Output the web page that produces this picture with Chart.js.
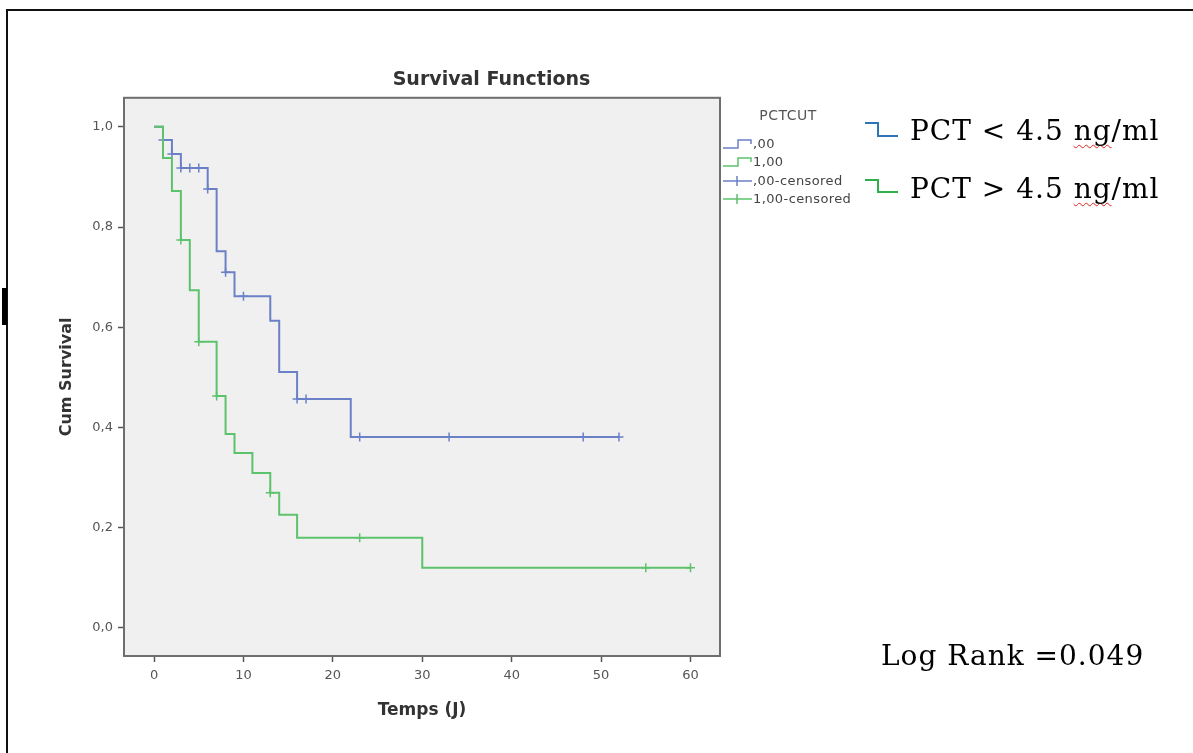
<!DOCTYPE html>
<html>
<head>
<meta charset="utf-8">
<script src="https://cdn.jsdelivr.net/npm/chart.js@4/dist/chart.umd.min.js"></script>
<style>
html,body{margin:0;padding:0;background:#fff;}
#wrap{position:relative;width:1193px;height:753px;overflow:hidden;background:#fff;}
#c{position:absolute;left:0;top:0;}
.fr{position:absolute;background:#111;}
.ann{position:absolute;font-family:"DejaVu Serif",serif;font-size:28px;line-height:32px;letter-spacing:1px;color:#000;white-space:nowrap;}
.sp{text-decoration:underline wavy #e02020;text-decoration-thickness:1px;text-underline-offset:4px;text-decoration-skip-ink:none;}
svg.icon{position:absolute;left:0;top:0;}
</style>
</head>
<body>
<div id="wrap">
  <canvas id="c" width="983" height="753"></canvas>
  <div class="fr" style="left:7px;top:9px;width:1186px;height:2px;"></div>
  <div class="fr" style="left:6px;top:9px;width:2px;height:744px;"></div>
  <div class="fr" style="left:2px;top:288px;width:5px;height:37px;background:#000;"></div>
  <svg class="icon" width="1193" height="753">
    <path d="M865 123 H878 V136 H898" fill="none" stroke="#2e75b6" stroke-width="2"/>
    <path d="M865 180 H878 V192 H898" fill="none" stroke="#2fae4f" stroke-width="2"/>
  </svg>
  <div class="ann" style="left:910px;top:115px;">PCT &lt; 4.5 <span class="sp">ng</span>/ml</div>
  <div class="ann" style="left:910px;top:173px;">PCT &gt; 4.5 <span class="sp">ng</span>/ml</div>
  <div class="ann" style="left:881px;top:640px;">Log Rank =0.049</div>
</div>
<script>
// ---- data ----
const timeTicks = [0, 10, 20, 30, 40, 50, 60];
const survTicks = [0, 0.2, 0.4, 0.6, 0.8, 1.0];
const survTickLabels = ['0,0', '0,2', '0,4', '0,6', '0,8', '1,0'];

// PCTCUT ,00 (PCT < 4.5)
const lowTimes = [0, 1, 2, 3, 6, 7, 8, 9, 13, 14, 16, 22, 52];
const lowSurv  = [1, 0.974, 0.946, 0.918, 0.876, 0.752, 0.71, 0.662, 0.613, 0.511, 0.457, 0.381, 0.381];
const lowCensTimes = [1, 2, 3, 4, 5, 6, 8, 10, 16, 17, 23, 33, 48, 52];
const lowCensSurv  = [0.974, 0.946, 0.918, 0.918, 0.918, 0.876, 0.71, 0.662, 0.457, 0.457, 0.381, 0.381, 0.381, 0.381];

// PCTCUT 1,00 (PCT > 4.5)
const highTimes = [0, 1, 2, 3, 4, 5, 7, 8, 9, 11, 13, 14, 16, 30, 60];
const highSurv  = [1, 0.938, 0.872, 0.774, 0.674, 0.571, 0.463, 0.387, 0.349, 0.309, 0.27, 0.226, 0.18, 0.12, 0.12];
const highCensTimes = [3, 5, 7, 13, 23, 55, 60];
const highCensSurv  = [0.774, 0.571, 0.463, 0.27, 0.18, 0.12, 0.12];

const legendTitle = 'PCTCUT';
const legendLabels = [',00', '1,00', ',00-censored', '1,00-censored'];

const BLUE = '#6b80c6';
const GREEN = '#5cc26c';

const toXY = (xs, ys) => xs.map((x, i) => ({x: x, y: ys[i]}));

const plotFrame = {
  id: 'plotFrame',
  beforeDatasetsDraw(chart) {
    const {ctx, chartArea: a} = chart;
    ctx.save();
    ctx.fillStyle = '#f0f0f0';
    ctx.fillRect(a.left, a.top, a.right - a.left, a.bottom - a.top);
    ctx.restore();
  },
  afterDatasetsDraw(chart) {
    const {ctx, chartArea: a} = chart;
    ctx.save();
    ctx.strokeStyle = '#6e6e6e';
    ctx.lineWidth = 2;
    ctx.strokeRect(a.left, a.top, a.right - a.left, a.bottom - a.top);
    ctx.restore();
  }
};

const spssLegend = {
  id: 'spssLegend',
  afterDraw(chart) {
    const ctx = chart.ctx;
    ctx.save();
    ctx.font = '14px "DejaVu Sans"';
    ctx.letterSpacing = '0.5px';
    ctx.fillStyle = '#555';
    ctx.textAlign = 'center';
    ctx.textBaseline = 'middle';
    ctx.fillText(legendTitle, 788, 116);
    const ys = [144, 162, 181, 199];
    const cols = [BLUE, GREEN, BLUE, GREEN];
    ctx.lineWidth = 1.5;
    ys.forEach((y, i) => {
      ctx.strokeStyle = cols[i];
      ctx.beginPath();
      if (i < 2) {
        ctx.moveTo(723, y + 4); ctx.lineTo(738, y + 4); ctx.lineTo(738, y - 4);
        ctx.lineTo(751, y - 4); ctx.lineTo(751, y);
      } else {
        ctx.moveTo(723, y); ctx.lineTo(752, y);
        ctx.moveTo(737, y - 5); ctx.lineTo(737, y + 5);
      }
      ctx.stroke();
    });
    ctx.font = '13px "DejaVu Sans"';
    ctx.letterSpacing = '0.4px';
    ctx.fillStyle = '#444';
    ctx.textAlign = 'left';
    ys.forEach((y, i) => ctx.fillText(legendLabels[i], 753, y + 1));
    ctx.restore();
  }
};

const fontAxis = {family: 'DejaVu Sans', size: 13};

new Chart(document.getElementById('c'), {
  type: 'line',
  data: {
    datasets: [
      {label: '1,00-censored', data: toXY(highCensTimes, highCensSurv), showLine: false,
       pointStyle: 'cross', pointRadius: 4.5, pointBorderWidth: 1.5, borderColor: GREEN, backgroundColor: GREEN, order: 0},
      {label: '1,00', data: toXY(highTimes, highSurv), stepped: true, borderColor: GREEN, borderWidth: 2,
       pointRadius: 0, fill: false, order: 1},
      {label: ',00-censored', data: toXY(lowCensTimes, lowCensSurv), showLine: false,
       pointStyle: 'cross', pointRadius: 4.5, pointBorderWidth: 1.5, borderColor: BLUE, backgroundColor: BLUE, order: 2},
      {label: ',00', data: toXY(lowTimes, lowSurv), stepped: true, borderColor: BLUE, borderWidth: 2,
       pointRadius: 0, fill: false, order: 3}
    ]
  },
  options: {
    responsive: false,
    animation: false,
    devicePixelRatio: 1,
    layout: {padding: {left: 0, right: 0, top: 0, bottom: 0}},
    plugins: {
      legend: {display: false},
      tooltip: {enabled: false},
      title: {
        display: true,
        text: 'Survival Functions',
        color: '#333',
        font: {family: 'DejaVu Sans', size: 19, weight: 'bold'},
        padding: {top: 69, bottom: 6}
      }
    },
    scales: {
      x: {
        type: 'linear',
        min: -3.36, max: 63.3,
        afterBuildTicks: s => { s.ticks = timeTicks.map(v => ({value: v})); },
        afterFit: s => { s.height = 97; },
        grid: {display: true, drawOnChartArea: false, drawTicks: true, tickLength: 6, tickColor: '#555', tickWidth: 1.5},
        border: {display: false},
        ticks: {color: '#555', font: fontAxis, padding: 6, maxRotation: 0, callback: v => String(v)},
        title: {display: true, text: 'Temps (J)', color: '#333', font: {family: 'DejaVu Sans', size: 17, weight: 'bold'}, padding: {top: 0, bottom: 32}}
      },
      y: {
        type: 'linear',
        position: 'left',
        min: -0.056, max: 1.058,
        afterBuildTicks: s => { s.ticks = survTicks.map(v => ({value: v})); },
        afterFit: s => { s.width = 124; },
        grid: {display: true, drawOnChartArea: false, drawTicks: true, tickLength: 6, tickColor: '#555', tickWidth: 1.5},
        border: {display: false},
        ticks: {color: '#555', font: fontAxis, padding: 5, callback: v => survTickLabels[survTicks.indexOf(v)]},
        title: {display: true, text: 'Cum Survival', color: '#333', font: {family: 'DejaVu Sans', size: 16, weight: 'bold'}, padding: {top: 57, bottom: 0}}
      },
      legendSpace: {
        type: 'linear',
        position: 'right',
        display: true,
        afterFit: s => { s.width = 263; },
        grid: {display: false, drawTicks: false},
        border: {display: false},
        ticks: {display: false}
      }
    }
  },
  plugins: [plotFrame, spssLegend]
});
</script>
</body>
</html>
